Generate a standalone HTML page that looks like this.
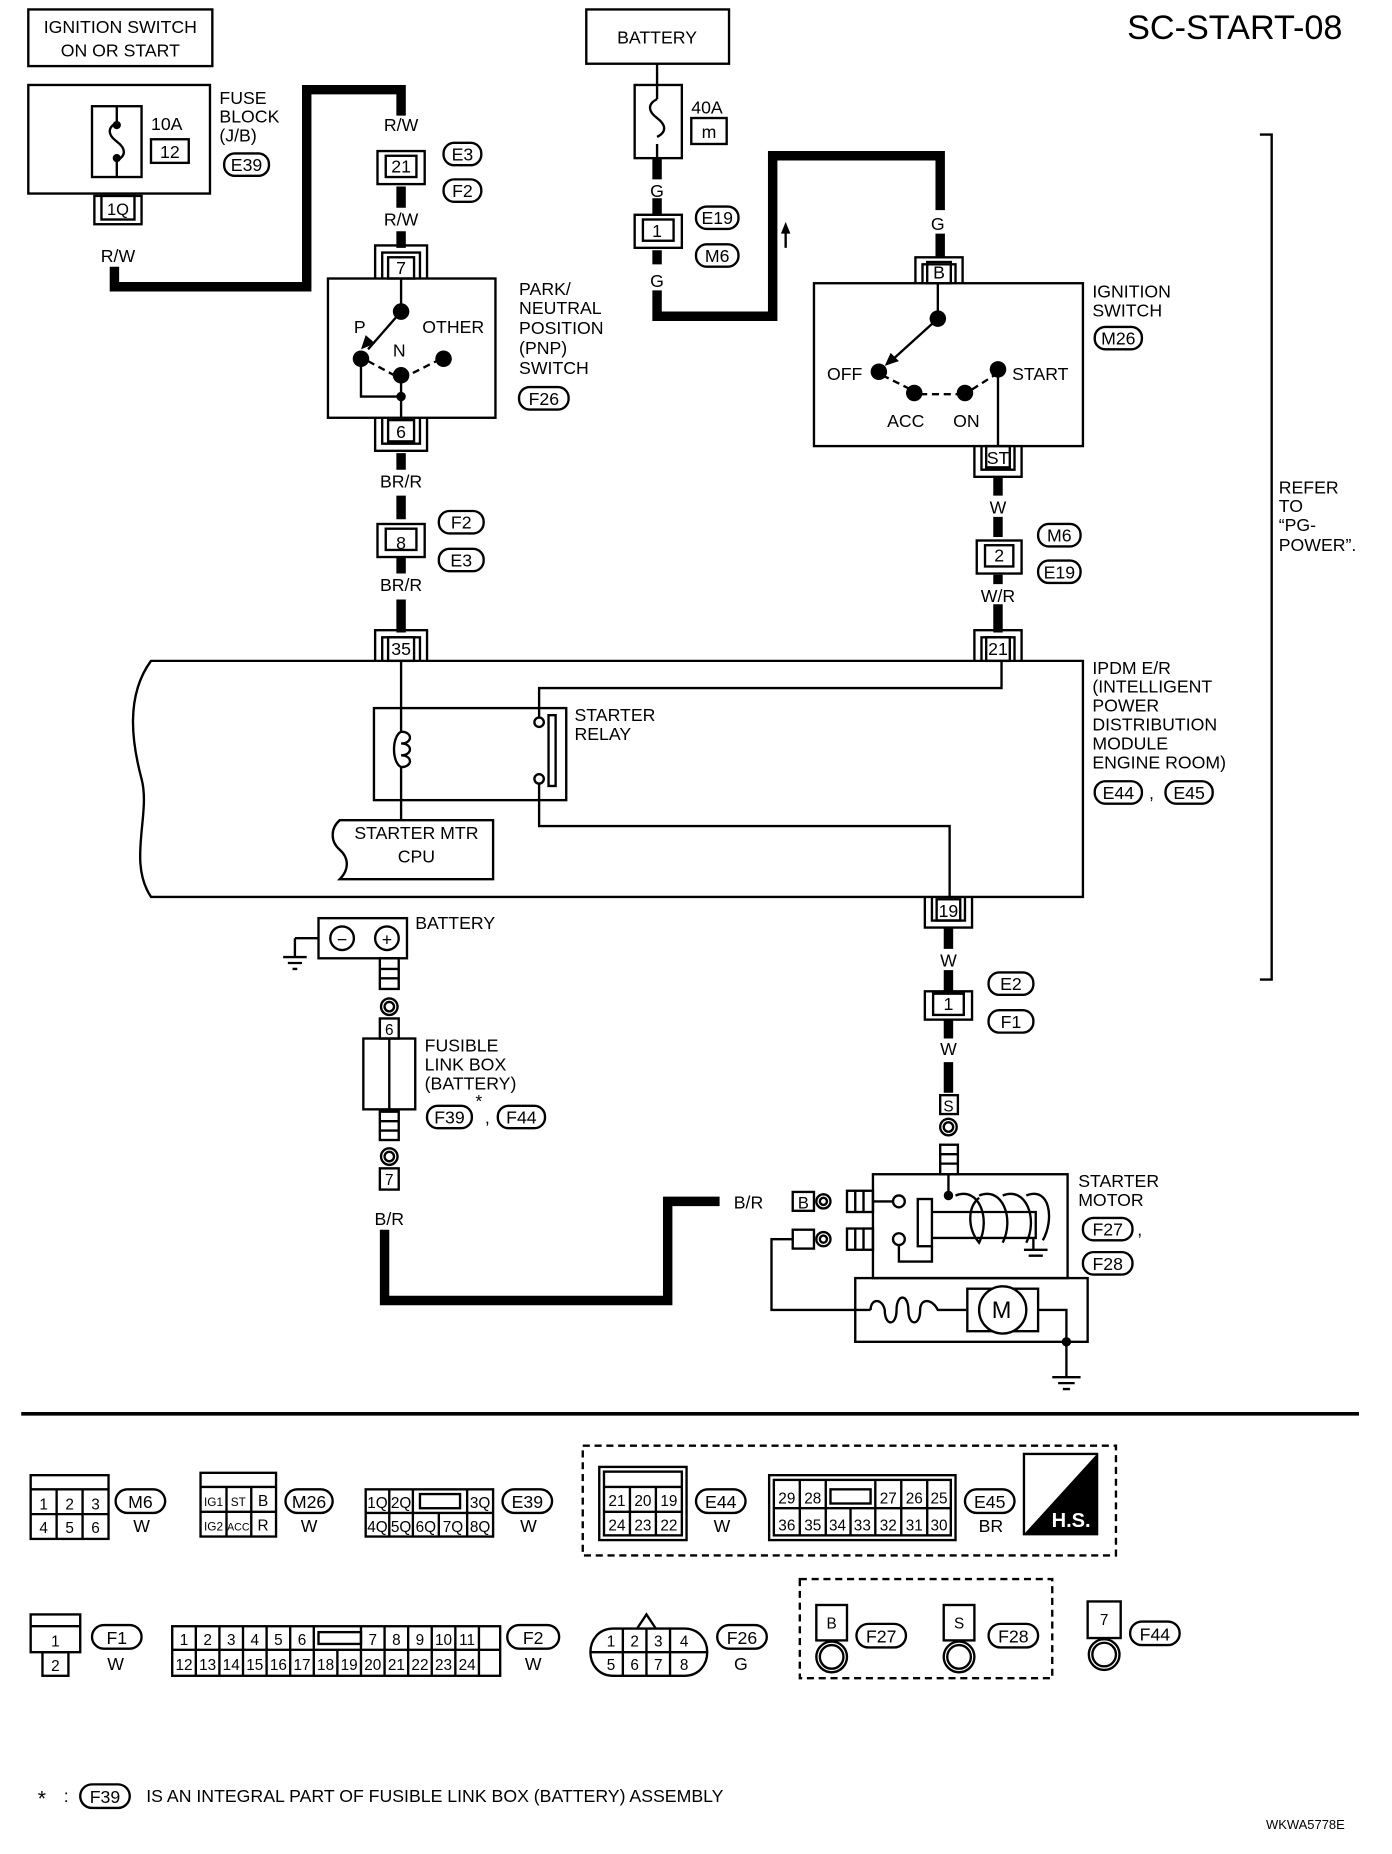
<!DOCTYPE html>
<html><head><meta charset="utf-8"><style>
html,body{margin:0;padding:0;background:#fff}
svg{display:block}
text{font-family:"Liberation Sans",sans-serif;fill:#000}
</style></head><body>
<svg width="1392" height="1854" viewBox="0 0 1180 1571" preserveAspectRatio="none" xmlns="http://www.w3.org/2000/svg">
<g fill="none" stroke="#000" stroke-width="2">
<rect x="24" y="8" width="156" height="48"/>
<rect x="24" y="72" width="154" height="92"/>
<rect x="78" y="90" width="42" height="60"/>
<path d="M99 90v14 M99 136v14 M99 104c-8 4-8 10 0 16s8 12 0 16"/>
<circle cx="99" cy="106" r="2.5" fill="#000"/><circle cx="99" cy="134" r="2.5" fill="#000"/>
<rect x="128" y="118" width="32" height="20"/>
<rect x="190" y="130" width="38" height="19" rx="9"/>
<rect x="80" y="166" width="40" height="24"/><rect x="86" y="166" width="28" height="20"/>
<g stroke-width="8">
<path d="M97 226v17h163V76h80v22"/>
<path d="M340 158v18 M340 196v14"/>
<path d="M340 384v14 M340 420v20 M340 472v14 M340 508v28"/>
<path d="M557 134v18 M557 168v15 M557 212v12 M557 246v22h98V132h142v46 M797 198v20"/>
<path d="M846 404v16 M846 438v17 M846 487v8 M846 512v24"/>
<path d="M804 786v18 M804 822v18 M804 864v16 M804 900v26"/>
<path d="M610 1018h-44v84H326v-60"/>
</g>
<rect x="320" y="128" width="40" height="28"/><rect x="327" y="132" width="26" height="18"/>
<rect x="376" y="121" width="32" height="19" rx="9"/><rect x="376" y="152" width="32" height="19" rx="9"/>
<path d="M318 236v-28h44v28 M324 236v-22h32v22"/><rect x="329" y="218" width="22" height="18"/>
<rect x="278" y="236" width="142" height="118"/>
<path d="M340 236v28 M340 264l-28 32 M306 304v32h34 M340 318v36"/>
<path d="M312 306l26 14 M350 316l24-12" stroke-dasharray="6 4"/>
<rect x="440" y="328" width="42" height="19" rx="9"/>
<path d="M318 354v28h44v-28 M324 354v22h32v-22"/><rect x="329" y="356" width="22" height="18"/>
<rect x="320" y="444" width="40" height="28"/><rect x="327" y="448" width="26" height="18"/>
<rect x="372" y="433" width="38" height="19" rx="9"/><rect x="372" y="465" width="38" height="19" rx="9"/>
<path d="M318 560v-26h44v26 M324 560v-20h32v20"/><rect x="329" y="540" width="22" height="20"/>
<rect x="497" y="8" width="121" height="46"/>
<path d="M557 54v18"/>
<rect x="538" y="72" width="40" height="62"/>
<path d="M557 72v12 M557 122v12 M557 84c-8 4-8 10 0 16s8 12 0 16"/>
<rect x="586" y="100" width="30" height="22"/>
<rect x="538" y="182" width="40" height="28"/><rect x="545" y="186" width="26" height="18"/>
<rect x="590" y="175" width="36" height="19" rx="9"/><rect x="590" y="207" width="36" height="19" rx="9"/>
<path d="M776 240v-22h40v22 M782 240v-16h28v16"/><rect x="786" y="222" width="20" height="18"/>
<rect x="690" y="240" width="228" height="138"/>
<path d="M795 240v30 M795 270l-42 38 M846 313v65"/>
<path d="M748 318l24 12 M780 334h34 M824 330l22-14" stroke-dasharray="6 4"/>
<rect x="928" y="277" width="40" height="19" rx="9"/>
<path d="M826 378v26h40v-26 M832 378v20h28v-20"/><rect x="836" y="378" width="20" height="18"/>
<rect x="828" y="458" width="38" height="28"/><rect x="835" y="462" width="24" height="18"/>
<rect x="880" y="444" width="36" height="19" rx="9"/><rect x="880" y="475" width="36" height="19" rx="9"/>
<path d="M826 560v-26h40v26 M832 560v-20h28v20"/><rect x="836" y="540" width="20" height="20"/>
<path d="M128 560H918V760H128c-20-30 0-70-8-100s-14-70 8-100z"/>
<path d="M340 560v40"/>
<rect x="317" y="600" width="163" height="78"/>
<path d="M340 600v20 M340 620c10 0 10 10 0 10 M340 630c10 0 10 10 0 10 M340 640c10 0 10 10 0 10 M340 650v28 M340 620c-8 4 -8 26 0 30" />
<path d="M340 678v17"/>
<path d="M288 695h130v50H288c8-8 8-18 0-25s-8-18 0-25z"/>
<circle cx="457" cy="612" r="4" fill="#fff"/><circle cx="457" cy="660" r="4" fill="#fff"/>
<rect x="465" y="606" width="6" height="60"/>
<path d="M457 608v-25h392v-24 M457 664v36h348v60"/>
<rect x="928" y="662" width="40" height="19" rx="9"/><rect x="988" y="662" width="40" height="19" rx="9"/>
<path d="M784 760v26h40v-26 M790 760v20h28v-20"/><rect x="794" y="762" width="20" height="18"/>
<rect x="784" y="840" width="40" height="24"/><rect x="791" y="842" width="26" height="18"/>
<rect x="838" y="824" width="38" height="19" rx="9"/><rect x="838" y="856" width="38" height="19" rx="9"/>
<rect x="797" y="928" width="15" height="16"/>
<circle cx="804" cy="955" r="7"/><circle cx="804" cy="955" r="4"/>
<rect x="797" y="970" width="15" height="25"/><path d="M797 978h15 M797 986h15"/>
<rect x="740" y="995" width="165" height="88"/>
<path d="M804 995v18"/>
<rect x="778" y="1016" width="12" height="40"/>
<path d="M790 1027h88v22h-88 M876 1049v10 M868 1059h20 M872 1064h12"/>
<path d="M810 1013c20 -8 30 20 20 40c-10 -12 -10 -30 0 -38 M830 1013c20 -8 30 20 20 40 M850 1013c20 -8 30 20 20 40 M870 1013c20 -8 24 20 14 38"/>
<circle cx="762" cy="1018" r="5"/><circle cx="762" cy="1050" r="5"/>
<path d="M740 1018h17 M762 1055v14h28v-13"/>
<rect x="718" y="1009" width="22" height="18"/><path d="M725 1009v18 M732 1009v18"/>
<rect x="718" y="1041" width="22" height="18"/><path d="M725 1041v18 M732 1041v18"/>
<rect x="672" y="1010" width="18" height="16"/><circle cx="698" cy="1018" r="6"/><circle cx="698" cy="1018" r="3"/>
<rect x="672" y="1042" width="18" height="16"/><circle cx="698" cy="1050" r="6"/><circle cx="698" cy="1050" r="3"/>
<path d="M672 1050h-18v60h84"/>
<rect x="725" y="1083" width="197" height="54"/>
<path d="M738 1110c0-10 10-10 12 0c0 14 10 14 10 0c0-14 10-14 10 0c0 14 10 14 10 0c0-10 10-10 15 0h24"/>
<rect x="820" y="1092" width="60" height="36"/><circle cx="850" cy="1110" r="20" fill="#fff"/>
<path d="M880 1110h24v27 M904 1137v30 M892 1167h24 M897 1172h14 M901 1177h6"/>
<rect x="918" y="1032" width="42" height="19" rx="9"/><rect x="918" y="1061" width="42" height="19" rx="9"/>
<rect x="270" y="778" width="75" height="34"/>
<circle cx="290" cy="795" r="10"/><circle cx="328" cy="795" r="10"/>
<path d="M270 795h-20 M250 795v16 M240 811h20 M244 816h12 M248 821h4"/>
<rect x="322" y="812" width="16" height="26"/><path d="M322 821h16 M322 829h16"/>
<circle cx="330" cy="853" r="7"/><circle cx="330" cy="853" r="4"/>
<rect x="322" y="863" width="16" height="17"/>
<rect x="308" y="880" width="44" height="60"/><path d="M330 880v60"/>
<rect x="322" y="942" width="16" height="24"/><path d="M322 950h16 M322 958h16"/>
<circle cx="330" cy="980" r="7"/><circle cx="330" cy="980" r="4"/>
<rect x="322" y="990" width="16" height="18"/>
<rect x="362" y="937" width="38" height="19" rx="9"/><rect x="422" y="937" width="40" height="19" rx="9"/>
<path d="M1068 114h10v716h-10"/>
</g>
<g fill="#000">
<circle cx="340" cy="264" r="7"/><circle cx="306" cy="304" r="7"/><circle cx="340" cy="318" r="7"/><circle cx="376" cy="304" r="7"/><circle cx="340" cy="336" r="4"/>
<path d="M306 296l4-12 8 7z"/>
<circle cx="795" cy="270" r="7"/><circle cx="745" cy="315" r="7"/><circle cx="775" cy="333" r="7"/><circle cx="818" cy="333" r="7"/><circle cx="846" cy="313" r="7"/>
<path d="M750 310l5-11 7 7z"/>
<path d="M666 188l-4 10h8z"/><rect x="665" y="196" width="2" height="14"/>
<circle cx="804" cy="1013" r="4"/><circle cx="904" cy="1137" r="4"/>
</g>
<g font-size="15">
<text x="102" y="28" text-anchor="middle">IGNITION SWITCH</text>
<text x="102" y="48" text-anchor="middle">ON OR START</text>
<text x="128" y="110">10A</text><text x="144" y="134" text-anchor="middle">12</text>
<text x="186" y="88">FUSE</text><text x="186" y="104">BLOCK</text><text x="186" y="120">(J/B)</text>
<text x="209" y="145" text-anchor="middle">E39</text>
<text x="100" y="182" text-anchor="middle" font-size="14">1Q</text><text x="100" y="222" text-anchor="middle">R/W</text>
<text x="340" y="111" text-anchor="middle">R/W</text><text x="340" y="146" text-anchor="middle">21</text>
<text x="392" y="136" text-anchor="middle">E3</text><text x="392" y="167" text-anchor="middle">F2</text>
<text x="340" y="191" text-anchor="middle">R/W</text><text x="340" y="232" text-anchor="middle">7</text>
<text x="300" y="282">P</text><text x="358" y="282">OTHER</text><text x="333" y="302">N</text>
<text x="440" y="250">PARK/</text><text x="440" y="266">NEUTRAL</text><text x="440" y="283">POSITION</text><text x="440" y="300">(PNP)</text><text x="440" y="317">SWITCH</text>
<text x="461" y="343" text-anchor="middle">F26</text>
<text x="340" y="371" text-anchor="middle">6</text><text x="340" y="413" text-anchor="middle">BR/R</text>
<text x="340" y="465" text-anchor="middle">8</text>
<text x="391" y="448" text-anchor="middle">F2</text><text x="391" y="480" text-anchor="middle">E3</text>
<text x="340" y="501" text-anchor="middle">BR/R</text><text x="340" y="555" text-anchor="middle">35</text>
<text x="557" y="37" text-anchor="middle">BATTERY</text>
<text x="586" y="96">40A</text><text x="601" y="117" text-anchor="middle">m</text>
<text x="557" y="167" text-anchor="middle">G</text><text x="557" y="201" text-anchor="middle">1</text>
<text x="608" y="190" text-anchor="middle">E19</text><text x="608" y="222" text-anchor="middle">M6</text>
<text x="557" y="243" text-anchor="middle">G</text>
<text x="795" y="195" text-anchor="middle">G</text><text x="796" y="236" text-anchor="middle">B</text>
<text x="926" y="252">IGNITION</text><text x="926" y="268">SWITCH</text>
<text x="948" y="292" text-anchor="middle">M26</text>
<text x="701" y="322">OFF</text><text x="858" y="322">START</text><text x="752" y="362">ACC</text><text x="808" y="362">ON</text>
<text x="846" y="393" text-anchor="middle">ST</text><text x="846" y="435" text-anchor="middle">W</text>
<text x="847" y="476" text-anchor="middle">2</text>
<text x="898" y="459" text-anchor="middle">M6</text><text x="898" y="490" text-anchor="middle">E19</text>
<text x="846" y="510" text-anchor="middle">W/R</text><text x="846" y="555" text-anchor="middle">21</text>
<text x="926" y="571">IPDM E/R</text><text x="926" y="587">(INTELLIGENT</text><text x="926" y="603">POWER</text><text x="926" y="619">DISTRIBUTION</text><text x="926" y="635">MODULE</text><text x="926" y="651">ENGINE ROOM)</text>
<text x="948" y="677" text-anchor="middle">E44</text><text x="974" y="677">,</text><text x="1008" y="677" text-anchor="middle">E45</text>
<text x="487" y="611">STARTER</text><text x="487" y="627">RELAY</text>
<text x="353" y="711" text-anchor="middle">STARTER MTR</text><text x="353" y="731" text-anchor="middle">CPU</text>
<text x="804" y="777" text-anchor="middle">19</text><text x="804" y="819" text-anchor="middle">W</text>
<text x="804" y="856" text-anchor="middle">1</text>
<text x="857" y="839" text-anchor="middle">E2</text><text x="857" y="871" text-anchor="middle">F1</text>
<text x="804" y="894" text-anchor="middle">W</text>
<text x="804" y="942" text-anchor="middle" font-size="13">S</text>
<text x="914" y="1006">STARTER</text><text x="914" y="1022">MOTOR</text>
<text x="939" y="1047" text-anchor="middle">F27</text><text x="964" y="1047">,</text><text x="939" y="1076" text-anchor="middle">F28</text>
<text x="849" y="1117" text-anchor="middle" font-size="20">M</text>
<text x="622" y="1024">B/R</text><text x="681" y="1024" text-anchor="middle" font-size="14">B</text>
<text x="330" y="1038" text-anchor="middle">B/R</text><text x="330" y="1004" text-anchor="middle" font-size="13">7</text>
<text x="290" y="801" text-anchor="middle">−</text><text x="328" y="801" text-anchor="middle">+</text>
<text x="352" y="787">BATTERY</text>
<text x="330" y="877" text-anchor="middle" font-size="13">6</text>
<text x="360" y="891">FUSIBLE</text><text x="360" y="907">LINK BOX</text><text x="360" y="923">(BATTERY)</text>
<text x="381" y="952" text-anchor="middle">F39</text><text x="403" y="938">*</text><text x="411" y="952">,</text><text x="442" y="952" text-anchor="middle">F44</text>
<text x="1084" y="418">REFER</text><text x="1084" y="434">TO</text><text x="1084" y="450">“PG-</text><text x="1084" y="467">POWER”.</text>
</g>
<text x="1138" y="33" font-size="29" text-anchor="end">SC-START-08</text>
<line x1="18" y1="1198" x2="1152" y2="1198" stroke="#000" stroke-width="3"/>
<g fill="none" stroke="#000" stroke-width="2">
<rect x="26" y="1250" width="66" height="54"/><path d="M26 1262h66 M26 1283h66 M48 1262v42 M70 1262v42"/>
<rect x="98" y="1262" width="42" height="20" rx="10"/>
<rect x="170" y="1248" width="64" height="54"/><path d="M170 1260h64 M170 1281h64 M192 1260v42 M213 1260v42"/>
<rect x="242" y="1262" width="40" height="20" rx="10"/>
<rect x="310" y="1262" width="108" height="40"/><path d="M310 1282h108 M330 1262v40 M350 1262v40 M396 1262v40 M372 1282v20"/><rect x="356" y="1266" width="34" height="12"/>
<rect x="426" y="1262" width="42" height="20" rx="10"/>
<rect x="494" y="1225" width="452" height="93" stroke-dasharray="6 4"/>
<rect x="508" y="1243" width="74" height="62"/><rect x="512" y="1247" width="66" height="54"/><path d="M512 1260h66 M512 1281h66 M534 1260v41 M556 1260v41"/>
<rect x="590" y="1262" width="42" height="20" rx="10"/>
<rect x="652" y="1250" width="158" height="55"/><rect x="656" y="1254" width="150" height="47"/><path d="M656 1278h150 M678 1254v47 M700 1254v47 M742 1254v24 M764 1254v47 M786 1254v47 M721 1278v23 M742 1278v23"/><rect x="704" y="1262" width="34" height="12"/>
<rect x="818" y="1262" width="42" height="20" rx="10"/>
<rect x="868" y="1232" width="62" height="68"/>
<rect x="26" y="1368" width="42" height="32"/><path d="M26 1378h42"/><rect x="36" y="1400" width="22" height="20"/>
<rect x="78" y="1377" width="42" height="20" rx="10"/>
<rect x="146" y="1378" width="278" height="42"/><path d="M146 1398h278"/>
<path d="M166 1378v42 M186 1378v42 M206 1378v42 M226 1378v42 M246 1378v42 M266 1378v42 M286 1398v22 M306 1378v42 M326 1378v42 M346 1378v42 M366 1378v42 M386 1378v42 M406 1378v42"/>
<rect x="270" y="1383" width="36" height="10"/>
<rect x="430" y="1377" width="44" height="20" rx="10"/>
<path d="M520 1380h60c26 0 26 40 0 40h-60c-26 0-26-40 0-40z M500 1400h100 M528 1380v40 M548 1380v40 M568 1380v40 M540 1380l8-12 8 12"/>
<rect x="608" y="1377" width="42" height="20" rx="10"/>
<rect x="678" y="1338" width="214" height="84" stroke-dasharray="6 4"/>
<rect x="692" y="1360" width="26" height="30"/><circle cx="705" cy="1404" r="13"/><circle cx="705" cy="1404" r="10"/>
<rect x="726" y="1376" width="42" height="20" rx="10"/>
<rect x="800" y="1360" width="26" height="30"/><circle cx="813" cy="1404" r="13"/><circle cx="813" cy="1404" r="10"/>
<rect x="838" y="1376" width="42" height="20" rx="10"/>
<rect x="922" y="1357" width="28" height="31"/><circle cx="936" cy="1402" r="13"/><circle cx="936" cy="1402" r="10"/>
<rect x="958" y="1374" width="42" height="20" rx="10"/>
<rect x="68" y="1512" width="42" height="20" rx="10"/>
</g>
<path d="M868 1300L930 1232V1300z" fill="#000"/>
<g font-size="13" text-anchor="middle">
<text x="37" y="1279">1</text><text x="59" y="1279">2</text><text x="81" y="1279">3</text><text x="37" y="1299">4</text><text x="59" y="1299">5</text><text x="81" y="1299">6</text>
<text x="119" y="1278" font-size="15">M6</text><text x="120" y="1298" font-size="15">W</text>
<text x="181" y="1276" font-size="10">IG1</text><text x="202" y="1276" font-size="10">ST</text><text x="223" y="1276">B</text><text x="181" y="1297" font-size="10">IG2</text><text x="202" y="1297" font-size="9">ACC</text><text x="223" y="1297">R</text>
<text x="262" y="1278" font-size="15">M26</text><text x="262" y="1298" font-size="15">W</text>
<text x="320" y="1278">1Q</text><text x="340" y="1278">2Q</text><text x="407" y="1278">3Q</text><text x="320" y="1298">4Q</text><text x="340" y="1298">5Q</text><text x="361" y="1298">6Q</text><text x="384" y="1298">7Q</text><text x="407" y="1298">8Q</text>
<text x="447" y="1278" font-size="15">E39</text><text x="448" y="1298" font-size="15">W</text>
<text x="523" y="1276">21</text><text x="545" y="1276">20</text><text x="567" y="1276">19</text><text x="523" y="1297">24</text><text x="545" y="1297">23</text><text x="567" y="1297">22</text>
<text x="611" y="1278" font-size="15">E44</text><text x="612" y="1298" font-size="15">W</text>
<text x="667" y="1274">29</text><text x="689" y="1274">28</text><text x="753" y="1274">27</text><text x="775" y="1274">26</text><text x="796" y="1274">25</text>
<text x="667" y="1297">36</text><text x="689" y="1297">35</text><text x="710" y="1297">34</text><text x="731" y="1297">33</text><text x="753" y="1297">32</text><text x="775" y="1297">31</text><text x="796" y="1297">30</text>
<text x="839" y="1278" font-size="15">E45</text><text x="840" y="1298" font-size="15">BR</text>
<text x="908" y="1294" font-size="17" font-weight="bold" style="fill:#fff">H.S.</text>
<text x="47" y="1395">1</text><text x="47" y="1416">2</text>
<text x="99" y="1393" font-size="15">F1</text><text x="98" y="1415" font-size="15">W</text>
<text x="156" y="1394">1</text><text x="176" y="1394">2</text><text x="196" y="1394">3</text><text x="216" y="1394">4</text><text x="236" y="1394">5</text><text x="256" y="1394">6</text><text x="316" y="1394">7</text><text x="336" y="1394">8</text><text x="356" y="1394">9</text><text x="376" y="1394">10</text><text x="396" y="1394">11</text>
<text x="156" y="1415">12</text><text x="176" y="1415">13</text><text x="196" y="1415">14</text><text x="216" y="1415">15</text><text x="236" y="1415">16</text><text x="256" y="1415">17</text><text x="276" y="1415">18</text><text x="296" y="1415">19</text><text x="316" y="1415">20</text><text x="336" y="1415">21</text><text x="356" y="1415">22</text><text x="376" y="1415">23</text><text x="396" y="1415">24</text>
<text x="452" y="1393" font-size="15">F2</text><text x="452" y="1415" font-size="15">W</text>
<text x="518" y="1395">1</text><text x="538" y="1395">2</text><text x="558" y="1395">3</text><text x="580" y="1395">4</text><text x="518" y="1415">5</text><text x="538" y="1415">6</text><text x="558" y="1415">7</text><text x="580" y="1415">8</text>
<text x="629" y="1393" font-size="15">F26</text><text x="628" y="1415" font-size="15">G</text>
<text x="705" y="1380">B</text><text x="747" y="1392" font-size="15">F27</text>
<text x="813" y="1380">S</text><text x="859" y="1392" font-size="15">F28</text>
<text x="936" y="1377">7</text><text x="979" y="1390" font-size="15">F44</text>
<text x="89" y="1528" font-size="15">F39</text>
</g>
<text x="32" y="1530" font-size="18">*</text><text x="54" y="1527" font-size="15">:</text>
<text x="124" y="1527" font-size="15">IS AN INTEGRAL PART OF FUSIBLE LINK BOX (BATTERY) ASSEMBLY</text>
<text x="1140" y="1550" font-size="11" text-anchor="end">WKWA5778E</text>
</svg>
</body></html>
